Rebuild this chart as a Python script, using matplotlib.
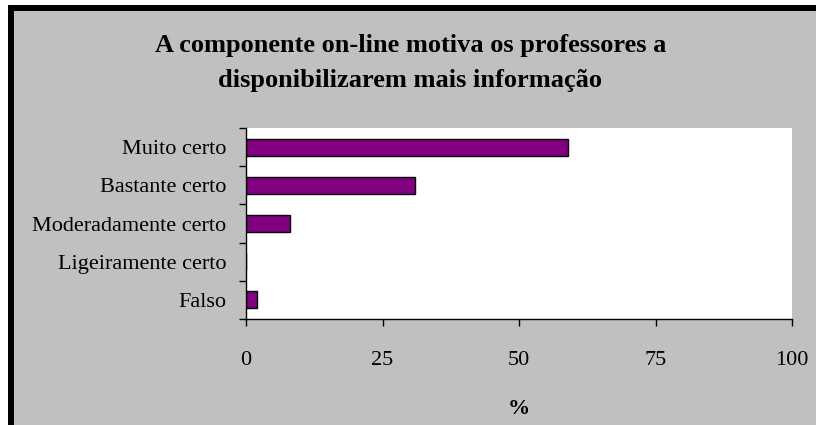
import matplotlib
matplotlib.use("Agg")
import matplotlib.pyplot as plt
import matplotlib.patches as mpatches

# data
categories = ["Muito certo", "Bastante certo", "Moderadamente certo",
              "Ligeiramente certo", "Falso"]
values = [59, 31, 8, 0, 2]
xticks = [0, 25, 50, 75, 100]
title = "A componente on-line motiva os professores a\ndisponibilizarem mais informação"

plt.rcParams['font.family'] = ['Liberation Serif', 'DejaVu Serif']

fig = plt.figure(figsize=(8.16, 4.25), dpi=100)
fig.patch.set_facecolor("white")

# grey panel with black top/left border (like an old Excel screenshot)
fig.patches.append(mpatches.Rectangle((8 / 816, 0), 1, 1 - 5 / 425,
                                      transform=fig.transFigure,
                                      facecolor="black", edgecolor="none", zorder=0))
fig.patches.append(mpatches.Rectangle((14 / 816, 0), 1, 1 - 11 / 425,
                                      transform=fig.transFigure,
                                      facecolor="#c0c0c0", edgecolor="none", zorder=0))

ax = fig.add_axes([246 / 816, 1 - 319 / 425, (792 - 246) / 816, (319 - 128) / 425])
ax.set_zorder(2)
ax.set_facecolor("white")

pos = list(range(len(categories)))
ax.barh(pos, values, height=0.45, color="#800080", edgecolor="black", linewidth=1)
ax.set_ylim(len(categories) - 0.5, -0.5)
ax.set_xlim(0, 100)

ax.set_yticks(pos)
ax.set_yticklabels(categories, fontsize=16)
ax.set_yticks([p - 0.5 for p in range(len(categories) + 1)], minor=True)
ax.tick_params(axis="y", which="major", length=0, pad=14)
ax.tick_params(axis="y", which="minor", length=5, width=1, direction="out")

ax.set_xticks(xticks)
ax.set_xticklabels([str(t) for t in xticks], fontsize=16)
ax.tick_params(axis="x", length=5, width=1, direction="out", pad=18)
ax.set_xlabel("%", fontsize=16, fontweight="bold", labelpad=21)

for s in ["top", "right"]:
    ax.spines[s].set_visible(False)
for s in ["left", "bottom"]:
    ax.spines[s].set_linewidth(1)

t = fig.text(0.503, 1 - 63 / 425, title, ha="center", va="center",
             fontsize=19, fontweight="bold", linespacing=1.68)
t.set_zorder(3)

fig.savefig("out.png", dpi=100)
